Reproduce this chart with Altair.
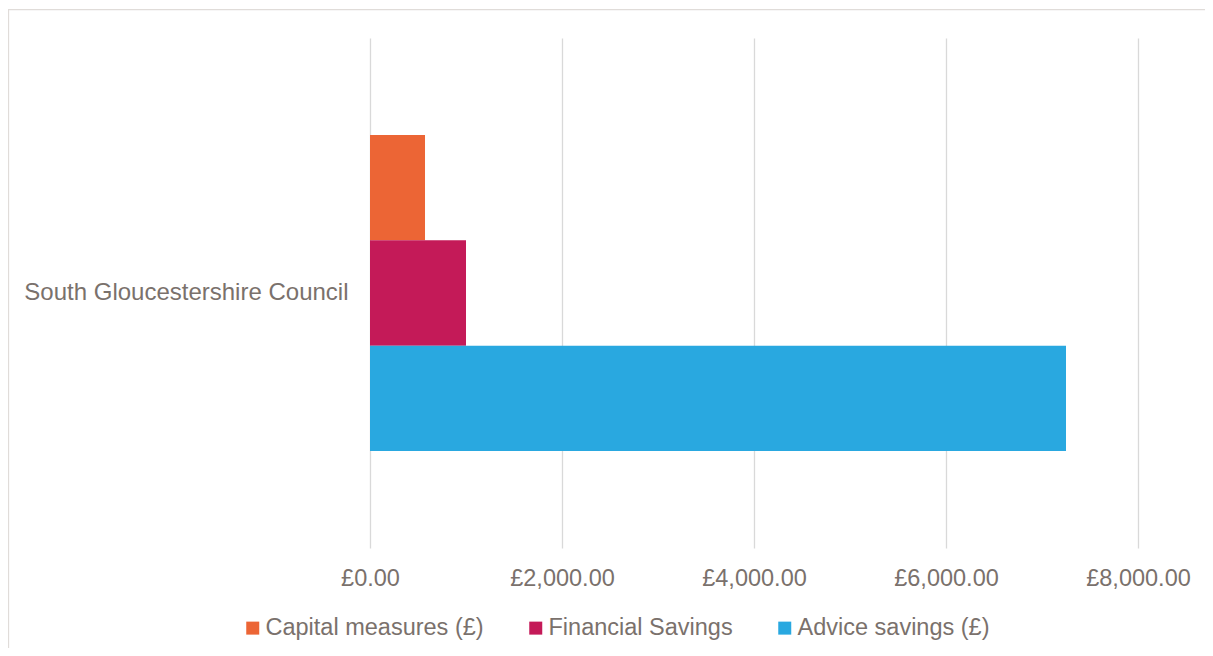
import altair as alt
import pandas as pd

councils = ["South Gloucestershire Council"]
series = ["Capital measures (£)", "Financial Savings", "Advice savings (£)"]
values = [573, 1000, 7250]
colors = ["#EC6535", "#C41A58", "#29A8E0"]
tick_values = [0, 2000, 4000, 6000, 8000]

df = pd.DataFrame({
    "Council": councils * len(series),
    "Series": series,
    "Value": values,
})

TEXT = "#7a716c"
FONT = "Liberation Sans"
FS = 23.5

bars = alt.Chart(df).mark_bar().encode(
    x=alt.X(
        "Value:Q",
        scale=alt.Scale(domain=[0, 8000], nice=False),
        axis=alt.Axis(
            title=None,
            values=tick_values,
            labelExpr="'£' + format(datum.value, ',.2f')",
            ticks=False,
            domain=False,
            grid=True,
            gridColor="#d9d9d9",
            gridWidth=1.3,
            labelFontSize=FS,
            labelColor=TEXT,
            labelFont=FONT,
            labelPadding=18,
            labelFlush=False,
        ),
    ),
    y=alt.Y(
        "Council:N",
        scale=alt.Scale(paddingInner=0, paddingOuter=0.307),
        axis=alt.Axis(
            title=None,
            ticks=False,
            domain=False,
            grid=False,
            labelFontSize=24,
            labelColor=TEXT,
            labelFont=FONT,
            labelPadding=22,
            labelLimit=600,
        ),
    ),
    yOffset=alt.YOffset("Series:N", sort=series, scale=alt.Scale(paddingInner=0, paddingOuter=0)),
    color=alt.Color(
        "Series:N",
        sort=series,
        scale=alt.Scale(domain=series, range=colors),
        legend=alt.Legend(
            title=None,
            orient="none",
            direction="horizontal",
            legendX=-129,
            legendY=578,
            symbolType="square",
            symbolSize=169,
            symbolStrokeWidth=0,
            labelFontSize=FS,
            labelColor=TEXT,
            labelFont=FONT,
            labelOffset=1,
            columnPadding=40,
            labelLimit=400,
        ),
    ),
)

frame_data = pd.DataFrame({"a": [0]})
left_line = alt.Chart(frame_data).mark_rule(color="#e0dcd9", strokeWidth=1.3).encode(
    x=alt.value(-361.5), y=alt.value(-28.3), y2=alt.value(620)
)
top_line = alt.Chart(frame_data).mark_rule(color="#e0dcd9", strokeWidth=1.3).encode(
    x=alt.value(-362), x2=alt.value(840), y=alt.value(-28.3)
)

chart = alt.layer(left_line, top_line, bars).properties(
    width=768,
    height=510,
    autosize=alt.AutoSizeParams(type="none"),
    padding={"left": 362, "top": 30, "right": 67, "bottom": 100},
).configure(font=FONT).configure_view(stroke=None, strokeWidth=0)

chart.save("out.html", embed_options={"renderer": "svg", "actions": False})
